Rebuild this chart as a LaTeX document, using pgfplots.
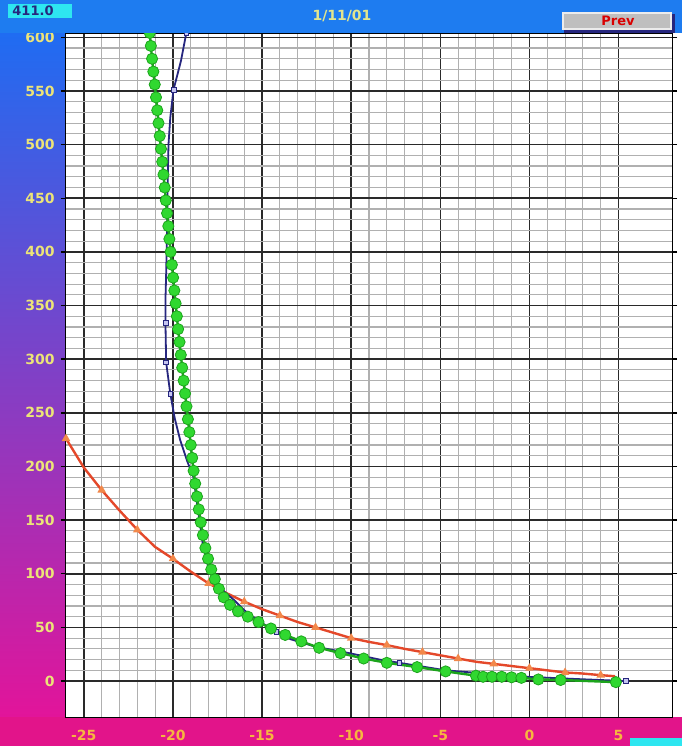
\documentclass[border=0pt]{standalone}
\usepackage{pgfplots}
\pgfplotsset{compat=1.18}
\usepackage{fontspec}
\setmainfont{DejaVu Sans}
\definecolor{topblue}{HTML}{1E7CF0}
\definecolor{gradtop}{HTML}{1F6CF2}
\definecolor{gradmid}{HTML}{7A34D2}
\definecolor{gradbot}{HTML}{E2149A}
\definecolor{pinkbar}{HTML}{E2148A}
\definecolor{cyanbox}{HTML}{2EE6F0}
\definecolor{ylab}{HTML}{ECE478}
\definecolor{xlab}{HTML}{F6B640}
\definecolor{titlecol}{HTML}{E2E68E}
\definecolor{redline}{HTML}{E4482A}
\definecolor{redmark}{HTML}{F2884A}
\definecolor{navy}{HTML}{26267E}
\definecolor{navymark}{HTML}{C4C4F0}
\definecolor{greenfill}{HTML}{30D830}
\definecolor{greendraw}{HTML}{1CA41C}
\definecolor{majgrid}{HTML}{2A2A2A}
\definecolor{mingrid}{HTML}{B0B0B0}
\begin{document}
\begin{tikzpicture}[x=0.5pt,y=0.5pt]
% backgrounds (image px, y up)
\shade[top color=gradtop, middle color=gradmid, bottom color=gradbot] (0,29) rectangle (66,713);
\fill[pinkbar] (0,0) rectangle (682,29);
\fill[white] (66,29) rectangle (682,713);
\begin{axis}[
  at={(33pt,14.5pt)}, anchor=south west,
  scale only axis, width=303pt, height=342pt,
  xmin=-26, xmax=8, ymin=-33.5, ymax=604,
  xtick={-25,-20,-15,-10,-5,0,5},
  xticklabels={-25,-20,-15,-10,-5,0,5},
  ytick={0,50,...,600},
  minor x tick num=4, minor y tick num=4,
  grid=both,
  major grid style={majgrid, line width=0.75pt},
  minor grid style={mingrid, line width=0.55pt},
  axis line style={black, line width=0.5pt},
  tick align=outside,
  major tick length=2.5pt, minor tick length=0pt,
  xtick style={draw=none},
  ytick style={black, line width=0.7pt},
  /pgf/number format/assume math mode=true,
  /pgf/number format/1000 sep={},
  yticklabel style={font=\fontsize{7}{8}\selectfont\bfseries, text=ylab, anchor=east, inner sep=0pt, xshift=-3pt},
  xticklabel style={font=\fontsize{7}{8}\selectfont\bfseries, text=xlab, anchor=north, inner sep=0pt, yshift=-4pt},
  clip=true,
]
% red series
\addplot[redline, line width=1.2pt, mark=triangle*, mark repeat=2, mark size=1.3pt, mark options={fill=redmark, draw=redmark}] coordinates {
(-26,226) (-25,199) (-24,178) (-23,159) (-22,141) (-21,125) (-20,114) (-19,102)
(-18,91) (-17,82) (-16,74) (-15,67) (-14,61) (-13,55) (-12,50) (-11,45)
(-10,40) (-9,36.5) (-8,33.5) (-7,30) (-6,27) (-5,24) (-4,21) (-3,18)
(-2,16) (-1,14) (0,12) (1,10) (2,8) (3,7) (4,5.5) (4.8,4.5)
};
% navy series
\addplot[navy, line width=0.9pt, mark=square*, mark indices={1,3,10,11,12,25,30,35}, mark size=1.2pt, mark options={fill=navymark, draw=navy, line width=0.3pt}] coordinates {
(-19.25,604) (-19.55,578) (-19.97,551) (-20.15,525) (-20.25,500) (-20.30,460)
(-20.33,420) (-20.38,380) (-20.42,355) (-20.42,334) (-20.38,297) (-20.15,268)
(-19.90,245) (-19.60,225) (-19.20,205) (-18.85,190) (-18.60,160) (-18.30,125)
(-18.00,105) (-17.60,93) (-17.10,83) (-16.60,76) (-16.00,66) (-15.10,55)
(-14.20,46) (-13.40,39) (-12.00,32) (-10.10,26) (-8.40,20) (-7.30,17)
(-4.70,10) (-2.50,7) (-0.20,4) (2.50,2) (5.40,0)
};
% green series
\addplot[greendraw, line width=1.2pt, mark=*, mark size=2.8pt, mark options={fill=greenfill, draw=greendraw, line width=0.4pt}] coordinates {
(-21.30,604) (-21.24,592) (-21.17,580) (-21.10,568) (-21.02,556) (-20.95,544)
(-20.88,532) (-20.81,520) (-20.74,508) (-20.67,496) (-20.60,484) (-20.53,472)
(-20.46,460) (-20.40,448) (-20.33,436) (-20.26,424) (-20.20,412) (-20.13,400)
(-20.06,388) (-19.99,376) (-19.92,364) (-19.85,352) (-19.78,340) (-19.71,328)
(-19.63,316) (-19.56,304) (-19.48,292) (-19.40,280) (-19.32,268) (-19.24,256)
(-19.16,244) (-19.08,232) (-19.00,220) (-18.92,208) (-18.84,196) (-18.75,184)
(-18.65,172) (-18.55,160) (-18.44,148) (-18.32,136) (-18.18,124) (-18.03,114)
(-17.85,104) (-17.65,95) (-17.42,86) (-17.15,78) (-16.80,71) (-16.35,65)
(-15.80,60) (-15.20,55) (-14.50,49) (-13.70,43) (-12.80,37) (-11.80,31)
(-10.60,26) (-9.30,21) (-8.00,17) (-6.30,13) (-4.70,9) (-3.00,5)
(-2.60,4) (-2.10,4) (-1.55,4) (-1.00,3.5) (-0.45,3) (0.50,1.5) (1.75,1) (4.85,-1)
};
\end{axis}
% top bar
\fill[topblue] (0,713) rectangle (682,746);
\fill[cyanbox] (8,728) rectangle (72,742);
\node[font=\fontsize{6.5}{7}\selectfont\bfseries, text=navy, inner sep=0pt] at (33,735) {411.0};
\node[font=\fontsize{7}{8}\selectfont\bfseries, text=titlecol, inner sep=0pt] at (342,730) {1/11/01};
% button
\fill[navy] (564,713) rectangle (675,732);
\fill[black!25] (562,716) rectangle (672,734);
\draw[white!85!gray, line width=0.6pt] (563,717) rectangle (671,733);
\node[font=\fontsize{6.5}{7}\selectfont\bfseries, text=red!85!black, inner sep=0pt] at (618,725) {Prev};
% bottom-right box
\fill[cyanbox] (630,0) rectangle (682,8);
\end{tikzpicture}
\end{document}
